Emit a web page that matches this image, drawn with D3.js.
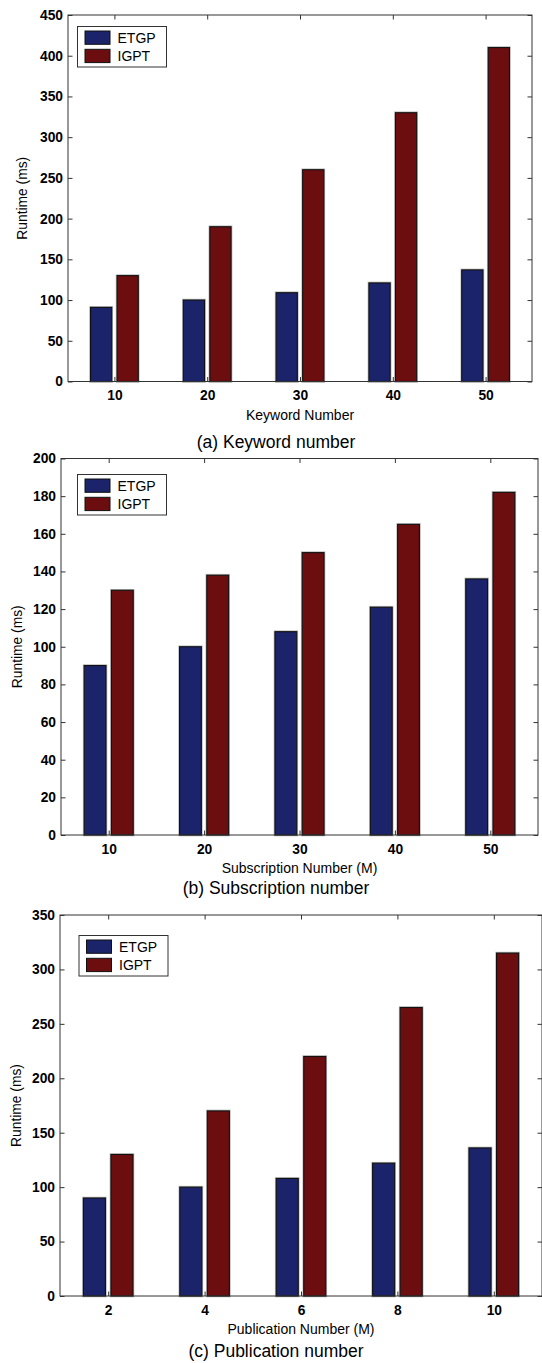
<!DOCTYPE html>
<html>
<head>
<meta charset="utf-8">
<script src="https://cdn.jsdelivr.net/npm/d3@7"></script>
<style>
  html, body { margin: 0; padding: 0; background: #fff; }
  svg { display: block; font-family: "Liberation Sans", Arial, sans-serif; }
</style>
</head>
<body>
<svg id="fig" width="542" height="1363"></svg>
<script>
// Series names and colours
const seriesNames = ["ETGP", "IGPT"];
const seriesColors = ["#1b236a", "#6c0d10"];

// (a) runtime vs keyword number
const keywordNumbers = [10, 20, 30, 40, 50];
const etgpKeyword = [91, 100, 109, 121, 137];
const igptKeyword = [130, 190, 260, 330, 410];
const yTicksKeyword = [0, 50, 100, 150, 200, 250, 300, 350, 400, 450];

// (b) runtime vs subscription number
const subscriptionNumbers = [10, 20, 30, 40, 50];
const etgpSubscription = [90, 100, 108, 121, 136];
const igptSubscription = [130, 138, 150, 165, 182];
const yTicksSubscription = [0, 20, 40, 60, 80, 100, 120, 140, 160, 180, 200];

// (c) runtime vs publication number
const publicationNumbers = [2, 4, 6, 8, 10];
const etgpPublication = [90, 100, 108, 122, 136];
const igptPublication = [130, 170, 220, 265, 315];
const yTicksPublication = [0, 50, 100, 150, 200, 250, 300, 350];

const panels = [
  { cats: keywordNumbers, series: [etgpKeyword, igptKeyword], yTicks: yTicksKeyword,
    xLabel: "Keyword Number", caption: "(a) Keyword number",
    box: { left: 68, right: 532, top: 15, bottom: 381.5 },
    legend: { x: 77.5, y: 26.5 }, yLabelX: 22.5, captionY: 442 },
  { cats: subscriptionNumbers, series: [etgpSubscription, igptSubscription], yTicks: yTicksSubscription,
    xLabel: "Subscription Number (M)", caption: "(b) Subscription number",
    box: { left: 61, right: 538, top: 458.5, bottom: 835 },
    legend: { x: 77.5, y: 474.5 }, yLabelX: 17, captionY: 888 },
  { cats: publicationNumbers, series: [etgpPublication, igptPublication], yTicks: yTicksPublication,
    xLabel: "Publication Number (M)", caption: "(c) Publication number",
    box: { left: 60, right: 542, top: 915, bottom: 1296 },
    legend: { x: 79, y: 935.5 }, yLabelX: 16, captionY: 1351 }
];

const svg = d3.select("#fig");
const tickLen = 4.5;
const axisColor = "#333";

panels.forEach(p => {
  const b = p.box;
  const step = p.cats[1] - p.cats[0];
  const x = d3.scaleLinear()
    .domain([p.cats[0] - step / 2, p.cats[p.cats.length - 1] + step / 2])
    .range([b.left, b.right]);
  const y = d3.scaleLinear()
    .domain([0, p.yTicks[p.yTicks.length - 1]])
    .range([b.bottom, b.top]);

  // grouped bar geometry (two series per group)
  const nSeries = p.series.length;
  const groupWidth = Math.min(0.8, nSeries / (nSeries + 1.5)) * step;
  const slot = groupWidth / nSeries;
  const barW = slot * 0.8;

  const g = svg.append("g");

  // bars, with a faint light outline around the dark edge
  p.series.forEach((vals, si) => {
    const off = -groupWidth / 2 + slot * (si + 0.5);
    const bars = g.append("g");
    const geom = sel => sel
      .attr("x", (d, i) => x(p.cats[i] + off - barW / 2))
      .attr("width", (d, i) => x(p.cats[i] + off + barW / 2) - x(p.cats[i] + off - barW / 2))
      .attr("y", d => y(d))
      .attr("height", d => y(0) - y(d));
    bars.selectAll("rect.halo")
      .data(vals)
      .join("rect")
      .attr("class", "halo")
      .call(geom)
      .attr("fill", "none")
      .attr("stroke", "#b8b8b8")
      .attr("stroke-width", 2.6);
    bars.selectAll("rect.bar")
      .data(vals)
      .join("rect")
      .attr("class", "bar")
      .call(geom)
      .attr("fill", seriesColors[si])
      .attr("stroke", "#111")
      .attr("stroke-width", 1.1);
  });

  // axes with inward ticks on all four sides
  const left = g.append("g").attr("transform", `translate(${b.left},0)`)
    .call(d3.axisLeft(y).tickValues(p.yTicks).tickSizeInner(-tickLen).tickSizeOuter(0).tickPadding(5));
  const bottom = g.append("g").attr("transform", `translate(0,${b.bottom})`)
    .call(d3.axisBottom(x).tickValues(p.cats).tickSizeInner(-tickLen).tickSizeOuter(0).tickPadding(9));
  const top = g.append("g").attr("transform", `translate(0,${b.top})`)
    .call(d3.axisTop(x).tickValues(p.cats).tickSizeInner(-tickLen).tickSizeOuter(0).tickFormat(""));
  const right = g.append("g").attr("transform", `translate(${b.right},0)`)
    .call(d3.axisRight(y).tickValues(p.yTicks).tickSizeInner(-tickLen).tickSizeOuter(0).tickFormat(""));

  [left, bottom, top, right].forEach(a => {
    a.select(".domain").remove();
    a.selectAll(".tick line").attr("stroke", axisColor).attr("stroke-width", 1);
    a.selectAll(".tick text")
      .attr("fill", "#000")
      .style("font-size", "13.8px")
      .style("font-weight", "bold")
      .style("font-family", "'Liberation Sans', Arial, sans-serif");
  });

  // frame
  g.append("rect")
    .attr("x", b.left).attr("y", b.top)
    .attr("width", b.right - b.left).attr("height", b.bottom - b.top)
    .attr("fill", "none").attr("stroke", axisColor).attr("stroke-width", 1);

  // axis titles
  g.append("text")
    .attr("x", (b.left + b.right) / 2).attr("y", b.bottom + 38)
    .attr("text-anchor", "middle")
    .style("font-size", "14px")
    .text(p.xLabel);
  g.append("text")
    .attr("transform", `translate(${p.yLabelX},${(b.top + b.bottom) / 2}) rotate(-90)`)
    .attr("text-anchor", "middle")
    .attr("dy", "0.35em")
    .style("font-size", "13.8px")
    .text("Runtime (ms)");

  // caption
  g.append("text")
    .attr("x", 276).attr("y", p.captionY)
    .attr("text-anchor", "middle").attr("dy", "0.35em")
    .style("font-size", "17.5px")
    .text(p.caption);

  // legend
  const lg = g.append("g").attr("transform", `translate(${p.legend.x},${p.legend.y})`);
  lg.append("rect").attr("width", 89).attr("height", 40.5)
    .attr("fill", "#fff").attr("stroke", axisColor).attr("stroke-width", 1);
  seriesNames.forEach((name, i) => {
    lg.append("rect")
      .attr("x", 7.5).attr("y", 4.5 + i * 18.3)
      .attr("width", 25).attr("height", 13.3)
      .attr("fill", seriesColors[i]).attr("stroke", "#111").attr("stroke-width", 1);
    lg.append("text")
      .attr("x", 40).attr("y", 11.2 + i * 18.3)
      .attr("dy", "0.35em")
      .style("font-size", "14px")
      .text(name);
  });
});
</script>
</body>
</html>
